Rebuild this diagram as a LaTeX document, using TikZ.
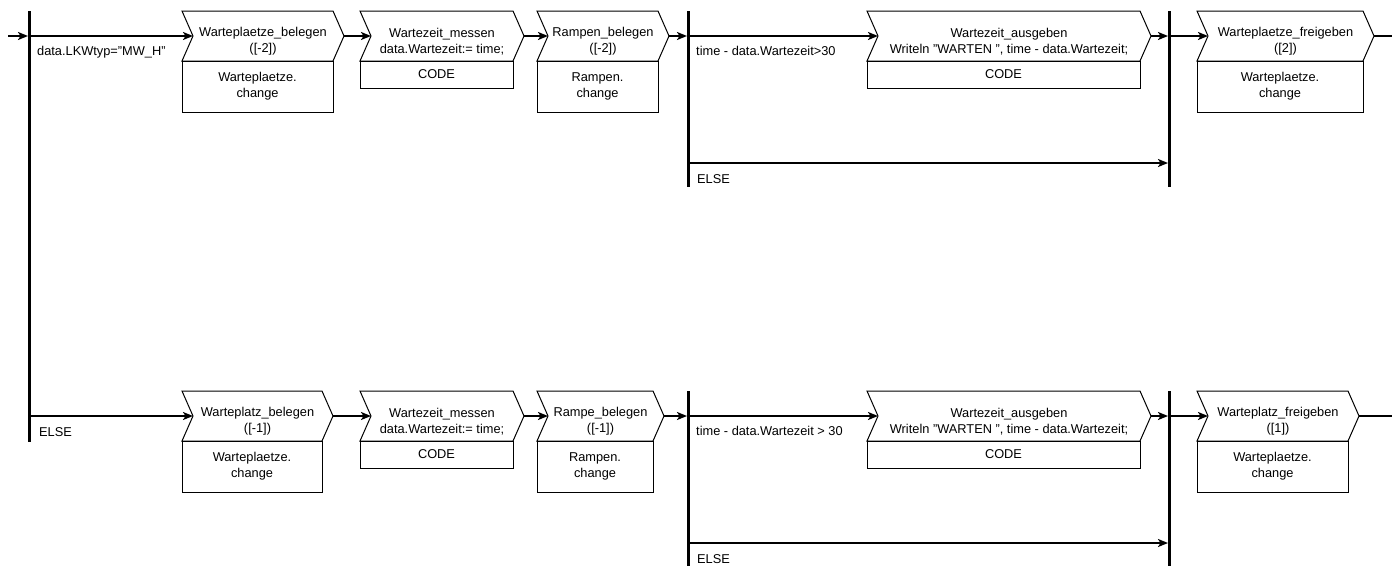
\documentclass[tikz,border=0pt]{standalone}
\usepackage{fontspec}
\setmainfont{Liberation Sans}
\usetikzlibrary{arrows.meta}

\tikzset{
  outl/.style={draw=black, line width=1pt},
  chevarea/.style={inner sep=0pt, outer sep=0pt, minimum height=50pt},
  lbl/.style={inner sep=0pt, align=center, font=\fontsize{12.8}{16}\selectfont},
  cbox/.style={draw=black, line width=1pt, inner sep=0pt, outer sep=0pt, align=center},
  flow/.style={line width=2pt, -{Stealth[length=10pt,width=8pt,inset=2.5pt]}},
  plainflow/.style={line width=2pt},
  barst/.style={fill=black, inner sep=0pt, outer sep=0pt, minimum width=3pt},
}

% #1 name, #2 left x, #3 top y, #4 right x, #5 step text, #6 action text, #7 action box height
\newcommand\mkchev[7]{%
  \node[chevarea, minimum width={#4-#2}, anchor=north west] (#1) at (#2,#3) {};
  \draw[outl] (#1.north west) -- (#1.north east) -- ([xshift=11pt]#1.east)
    -- (#1.south east) -- (#1.south west) -- ([xshift=11pt]#1.west) -- cycle;
  \node[lbl] (#1-t) at ([xshift=5.5pt,yshift=-5.5pt]#1.center) {#5};
  \node[cbox, lbl, minimum width={#4-#2}, minimum height=#7, anchor=north west]
    (#1-b) at (#1.south west) {#6};
}

\begin{document}
\begin{tikzpicture}[x=1pt, y=-1pt]
\useasboundingbox (0,0) rectangle (1399,565);

% decision bars
\node[barst, minimum height=431pt, anchor=north] (b1) at (29.5,11) {};
\node[barst, minimum height=176pt, anchor=north] (b2) at (688.5,11) {};
\node[barst, minimum height=176pt, anchor=north] (b3) at (1169.5,11) {};
\node[barst, minimum height=176pt, anchor=north] (b4) at (688.5,391) {};
\node[barst, minimum height=176pt, anchor=north] (b5) at (1169.5,391) {};

% upper branch
\mkchev{r1c1}{182}{11}{333}{Warteplaetze\_belegen\\([-2])}{Warteplaetze.\\change}{51pt}
\mkchev{r1c2}{360}{11}{513}{Wartezeit\_messen\\data.Wartezeit:= time;}{CODE}{27pt}
\mkchev{r1c3}{537}{11}{658}{Rampen\_belegen\\([-2])}{Rampen.\\change}{51pt}
\mkchev{r1c4}{867}{11}{1140}{Wartezeit\_ausgeben\\Writeln "WARTEN ", time - data.Wartezeit;}{CODE}{27pt}
\mkchev{r1c5}{1197}{11}{1363}{Warteplaetze\_freigeben\\([2])}{Warteplaetze.\\change}{51pt}

% lower branch
\mkchev{r2c1}{182}{391}{322}{Warteplatz\_belegen\\([-1])}{Warteplaetze.\\change}{51pt}
\mkchev{r2c2}{360}{391}{513}{Wartezeit\_messen\\data.Wartezeit:= time;}{CODE}{27pt}
\mkchev{r2c3}{537}{391}{653}{Rampe\_belegen\\([-1])}{Rampen.\\change}{51pt}
\mkchev{r2c4}{867}{391}{1140}{Wartezeit\_ausgeben\\Writeln "WARTEN ", time - data.Wartezeit;}{CODE}{27pt}
\mkchev{r2c5}{1197}{391}{1348}{Warteplatz\_freigeben\\([1])}{Warteplaetze.\\change}{51pt}

% guard labels
\node[lbl, anchor=base west] (g1) at (37,55) {data.LKWtyp="MW\_H"};
\node[lbl, anchor=base west] (g2) at (39,436) {ELSE};
\node[lbl, anchor=base west] (g3) at (696,55) {time - data.Wartezeit>30};
\node[lbl, anchor=base west] (g4) at (697,183) {ELSE};
\node[lbl, anchor=base west] (g5) at (696,435) {time - data.Wartezeit > 30};
\node[lbl, anchor=base west] (g6) at (697,563) {ELSE};

% free ends
\coordinate (start) at (8,36);
\coordinate (out1) at (1392,36);
\coordinate (out2) at (1392,416);
\coordinate (else1) at (700,163);
\coordinate (else2) at (700,543);

% connectors, upper branch
\draw[flow] (start) -- (start -| b1.west);
\draw[flow] (r1c1.west -| b1.east) -- ([xshift=11pt]r1c1.west);
\draw[flow] ([xshift=11pt]r1c1.east) -- ([xshift=11pt]r1c2.west);
\draw[flow] ([xshift=11pt]r1c2.east) -- ([xshift=11pt]r1c3.west);
\draw[flow] ([xshift=11pt]r1c3.east) -- (r1c3.east -| b2.west);
\draw[flow] (r1c4.west -| b2.east) -- ([xshift=11pt]r1c4.west);
\draw[flow] ([xshift=11pt]r1c4.east) -- (r1c4.east -| b3.west);
\draw[flow] (else1 -| b2.east) -- (else1 -| b3.west);
\draw[flow] (r1c5.west -| b3.east) -- ([xshift=11pt]r1c5.west);
\draw[plainflow] ([xshift=11pt]r1c5.east) -- (out1);

% connectors, lower branch
\draw[flow] (r2c1.west -| b1.east) -- ([xshift=11pt]r2c1.west);
\draw[flow] ([xshift=11pt]r2c1.east) -- ([xshift=11pt]r2c2.west);
\draw[flow] ([xshift=11pt]r2c2.east) -- ([xshift=11pt]r2c3.west);
\draw[flow] ([xshift=11pt]r2c3.east) -- (r2c3.east -| b4.west);
\draw[flow] (r2c4.west -| b4.east) -- ([xshift=11pt]r2c4.west);
\draw[flow] ([xshift=11pt]r2c4.east) -- (r2c4.east -| b5.west);
\draw[flow] (else2 -| b4.east) -- (else2 -| b5.west);
\draw[flow] (r2c5.west -| b5.east) -- ([xshift=11pt]r2c5.west);
\draw[plainflow] ([xshift=11pt]r2c5.east) -- (out2);
\end{tikzpicture}
\end{document}
